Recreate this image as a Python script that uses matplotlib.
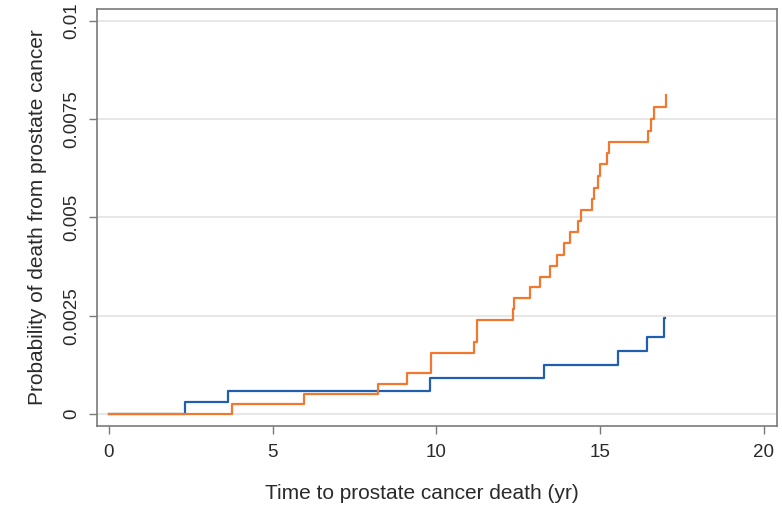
import matplotlib.pyplot as plt

plt.rcParams["font.family"] = ["Liberation Sans", "DejaVu Sans"]

# event times (yr) and cumulative probability after each step
blue_times = [0, 2.31, 3.64, 9.79, 13.29, 15.53, 16.43, 16.95, 16.98]
blue_probs = [0, 0.00029, 0.00058, 0.00091, 0.00124, 0.00160, 0.00196, 0.00243, 0.00243]

orange_times = [0, 3.76, 5.97, 8.23, 9.09, 9.83, 11.15, 11.24, 12.33, 12.36,
                12.87, 13.17, 13.46, 13.68, 13.89, 14.08, 14.32, 14.43, 14.74,
                14.82, 14.94, 14.99, 15.21, 15.27, 16.46, 16.54, 16.64, 17.0, 17.02]
orange_probs = [0, 0.000256, 0.000512, 0.000768, 0.00103, 0.00156, 0.00184, 0.00239,
                0.00266, 0.00294, 0.00322, 0.00349, 0.00377, 0.00405, 0.00434,
                0.00462, 0.00490, 0.00519, 0.00548, 0.00576, 0.00606, 0.00635,
                0.00664, 0.00692, 0.00720, 0.00750, 0.00781, 0.00812, 0.00812]

x_ticks = [0, 5, 10, 15, 20]
y_ticks = [0, 0.0025, 0.005, 0.0075, 0.01]
y_tick_labels = ["0", "0.0025", "0.005", "0.0075", "0.01"]

fig = plt.figure(figsize=(7.82, 5.07), dpi=100)
ax = fig.add_axes([0.124, 0.16, 0.8696, 0.822])

ax.step(blue_times, blue_probs, where="post", color="#1f5fae", lw=1.6)
ax.step(orange_times, orange_probs, where="post", color="#f2782f", lw=1.6)

ax.set_xlim(-0.366, 20.4)
ax.set_ylim(-0.000305, 0.0103)
ax.set_xticks(x_ticks)
ax.set_yticks(y_ticks)
ax.set_yticklabels(y_tick_labels, rotation=90, va="center")
ax.grid(axis="y", color="#e3e3e3", lw=1.2)
ax.set_axisbelow(True)

for sp in ax.spines.values():
    sp.set_color("#7a7a7a")
    sp.set_linewidth(1.2)
ax.tick_params(direction="out", length=6, width=1, color="#7a7a7a",
               labelsize=13.5, labelcolor="#2a2a2a")
ax.tick_params(axis="x", pad=7)
ax.tick_params(axis="y", pad=6)

ax.set_xlabel("Time to prostate cancer death (yr)", fontsize=15, color="#2a2a2a")
ax.xaxis.set_label_coords(0.4775, -0.14)
ax.set_ylabel("Probability of death from prostate cancer", fontsize=15, color="#2a2a2a", labelpad=12)

fig.savefig("out.png", dpi=100)
